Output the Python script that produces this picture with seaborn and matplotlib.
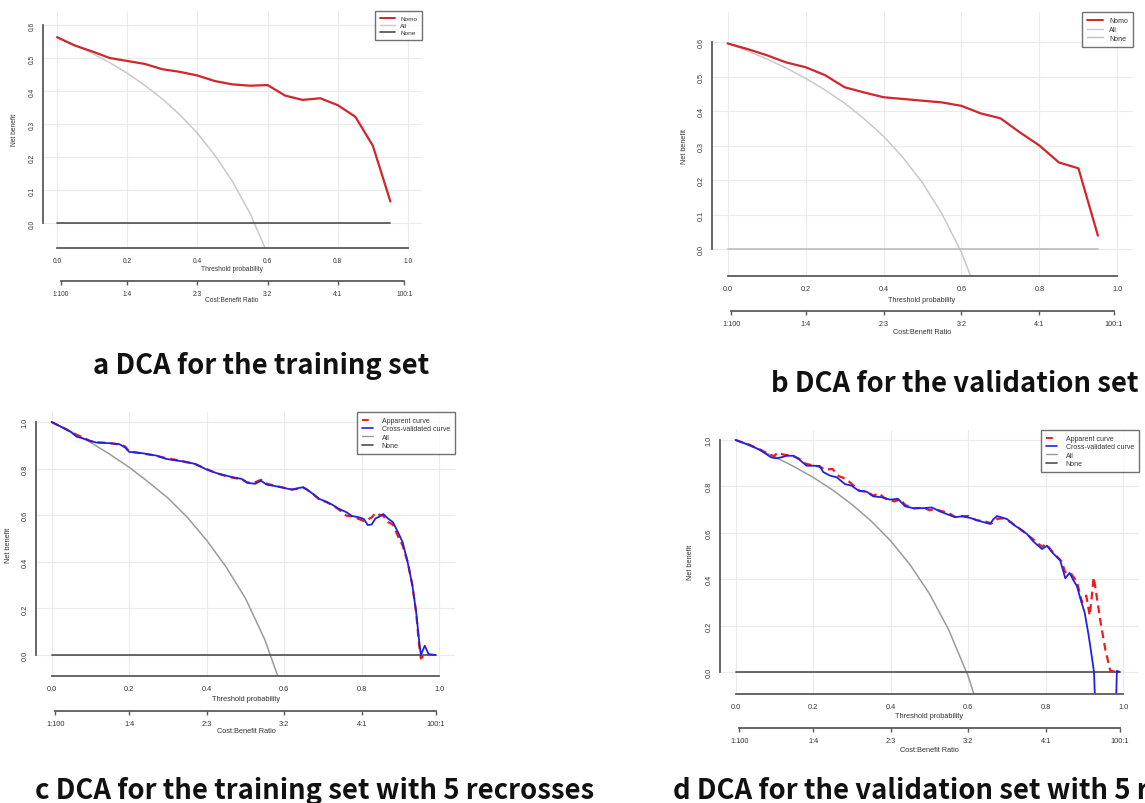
import matplotlib
matplotlib.use("Agg")
import matplotlib.pyplot as plt
from matplotlib.lines import Line2D
import seaborn as sns

W, H = 1145, 804

# ---------------- data ----------------
# (a) training set
thr_a = [0.00, 0.05, 0.10, 0.15, 0.20, 0.25, 0.30, 0.35, 0.40, 0.45,
         0.50, 0.55, 0.60, 0.65, 0.70, 0.75, 0.80, 0.85, 0.90, 0.95]
nomo_a = [0.563, 0.538, 0.520, 0.500, 0.491, 0.482, 0.466, 0.458, 0.447, 0.430,
          0.420, 0.416, 0.418, 0.386, 0.373, 0.378, 0.357, 0.322, 0.234, 0.065]
all_thr_a = [0.00, 0.05, 0.10, 0.15, 0.20, 0.25, 0.30, 0.35, 0.40, 0.45, 0.50, 0.55, 0.60]
all_a = [0.563, 0.540, 0.514, 0.486, 0.454, 0.417, 0.376, 0.328, 0.272, 0.205, 0.126, 0.029, -0.093]
none_thr_a = [0.0, 0.95]
none_a = [0.0, 0.0]

# (b) validation set
thr_b = thr_a
nomo_b = [0.596, 0.580, 0.562, 0.541, 0.527, 0.504, 0.469, 0.454, 0.440, 0.435,
          0.430, 0.425, 0.415, 0.393, 0.379, 0.338, 0.300, 0.251, 0.234, 0.039]
all_thr_b = [0.00, 0.05, 0.10, 0.15, 0.20, 0.25, 0.30, 0.35, 0.40, 0.45, 0.50, 0.55, 0.60, 0.65]
all_b = [0.596, 0.575, 0.551, 0.525, 0.495, 0.461, 0.423, 0.378, 0.327, 0.265, 0.192, 0.102, -0.010, -0.154]
none_thr_b = [0.0, 0.95]
none_b = [0.0, 0.0]

# (c) training set, 5 recrosses
thr_c_cv = [0.0, 0.03, 0.05, 0.065, 0.08, 0.10, 0.115, 0.15, 0.175, 0.19, 0.20, 0.235, 0.27,
            0.295, 0.32, 0.345, 0.37, 0.40, 0.425, 0.45, 0.47, 0.49, 0.505, 0.525, 0.54, 0.555,
            0.58, 0.605, 0.62, 0.635, 0.648, 0.658, 0.675, 0.69, 0.71, 0.725, 0.74, 0.76, 0.775,
            0.79, 0.805, 0.815, 0.825, 0.835, 0.845, 0.855, 0.868, 0.88, 0.893, 0.905, 0.918,
            0.93, 0.94, 0.947, 0.952, 0.962, 0.972, 0.99]
cv_c = [1.0, 0.975, 0.957, 0.937, 0.930, 0.919, 0.912, 0.909, 0.905, 0.890, 0.872, 0.866, 0.856,
        0.842, 0.835, 0.830, 0.820, 0.796, 0.781, 0.770, 0.762, 0.756, 0.739, 0.735, 0.748, 0.731,
        0.724, 0.715, 0.710, 0.716, 0.720, 0.711, 0.690, 0.670, 0.657, 0.644, 0.628, 0.613, 0.596,
        0.592, 0.584, 0.558, 0.560, 0.586, 0.594, 0.605, 0.585, 0.570, 0.527, 0.484, 0.398,
        0.300, 0.183, 0.070, 0.000, 0.040, 0.004, 0.000]
thr_c_app = [0.0, 0.03, 0.05, 0.065, 0.08, 0.10, 0.115, 0.15, 0.175, 0.19, 0.20, 0.235, 0.27,
             0.295, 0.32, 0.345, 0.37, 0.40, 0.425, 0.45, 0.47, 0.49, 0.505, 0.525, 0.54, 0.555,
             0.58, 0.605, 0.62, 0.635, 0.648, 0.658, 0.675, 0.69, 0.71, 0.725, 0.74, 0.76, 0.775,
             0.79, 0.805, 0.815, 0.825, 0.835, 0.845, 0.855, 0.868, 0.88, 0.893, 0.905, 0.918,
             0.93, 0.94, 0.947, 0.952, 0.962, 0.975]
app_c = [1.0, 0.976, 0.958, 0.945, 0.935, 0.918, 0.913, 0.910, 0.903, 0.895, 0.874, 0.865, 0.855,
         0.845, 0.838, 0.828, 0.820, 0.798, 0.780, 0.768, 0.760, 0.755, 0.740, 0.742, 0.752, 0.735,
         0.725, 0.716, 0.710, 0.714, 0.720, 0.710, 0.690, 0.668, 0.655, 0.642, 0.625, 0.598, 0.595,
         0.585, 0.575, 0.582, 0.590, 0.610, 0.602, 0.598, 0.570, 0.560, 0.510, 0.470, 0.400,
         0.300, 0.180, 0.050, -0.015, 0.000, 0.000]
all_thr_c = [0.00, 0.05, 0.10, 0.15, 0.20, 0.25, 0.30, 0.35, 0.40, 0.45, 0.50, 0.55, 0.60]
all_c = [1.0, 0.959, 0.913, 0.862, 0.806, 0.742, 0.674, 0.591, 0.492, 0.378, 0.243, 0.065, -0.169]
none_thr_c = [0.0, 0.99]
none_c = [0.0, 0.0]

# (d) validation set, 5 recrosses
thr_d_cv = [0.0, 0.036, 0.062, 0.092, 0.105, 0.12, 0.131, 0.149, 0.165, 0.183, 0.20, 0.217, 0.226,
            0.244, 0.261, 0.282, 0.299, 0.317, 0.338, 0.355, 0.377, 0.398, 0.419, 0.437, 0.458,
            0.484, 0.506, 0.527, 0.544, 0.566, 0.583, 0.605, 0.626, 0.656, 0.665, 0.674, 0.70,
            0.717, 0.735, 0.751, 0.768, 0.79, 0.803, 0.816, 0.837, 0.85, 0.861, 0.871, 0.88,
            0.89, 0.90, 0.91, 0.918, 0.924, 0.935, 0.975, 0.983, 0.99]
cv_d = [1.0, 0.978, 0.958, 0.925, 0.921, 0.926, 0.932, 0.932, 0.915, 0.889, 0.889, 0.888, 0.862,
        0.846, 0.839, 0.810, 0.803, 0.782, 0.777, 0.757, 0.753, 0.743, 0.746, 0.714, 0.706,
        0.706, 0.709, 0.692, 0.681, 0.667, 0.671, 0.664, 0.652, 0.638, 0.659, 0.672, 0.659,
        0.634, 0.615, 0.595, 0.562, 0.530, 0.544, 0.516, 0.480, 0.404, 0.427, 0.395, 0.370,
        0.310, 0.255, 0.160, 0.070, 0.000, -0.500, -0.500, 0.005, 0.000]
thr_d_app = [0.0, 0.036, 0.062, 0.085, 0.10, 0.107, 0.115, 0.131, 0.15, 0.165, 0.18, 0.20, 0.217,
             0.23, 0.25, 0.265, 0.285, 0.30, 0.32, 0.338, 0.355, 0.37, 0.385, 0.41, 0.425, 0.437,
             0.46, 0.485, 0.50, 0.515, 0.527, 0.55, 0.566, 0.583, 0.60, 0.62, 0.645, 0.66, 0.675,
             0.69, 0.71, 0.73, 0.75, 0.77, 0.79, 0.80, 0.82, 0.84, 0.85, 0.862, 0.88, 0.893,
             0.904, 0.913, 0.919, 0.923, 0.927, 0.941, 0.953, 0.966, 0.983]
app_d = [1.0, 0.979, 0.960, 0.940, 0.930, 0.945, 0.940, 0.935, 0.930, 0.918, 0.898, 0.890, 0.885,
         0.872, 0.875, 0.845, 0.832, 0.810, 0.780, 0.778, 0.760, 0.770, 0.748, 0.735, 0.745, 0.720,
         0.705, 0.708, 0.697, 0.703, 0.695, 0.685, 0.668, 0.672, 0.672, 0.655, 0.648, 0.640, 0.660,
         0.662, 0.645, 0.620, 0.595, 0.568, 0.540, 0.552, 0.512, 0.478, 0.430, 0.430, 0.390, 0.300,
         0.329, 0.243, 0.336, 0.408, 0.370, 0.214, 0.099, 0.005, 0.000]
all_thr_d = [0.00, 0.05, 0.10, 0.15, 0.20, 0.25, 0.30, 0.35, 0.40, 0.45, 0.50, 0.55, 0.60, 0.65]
all_d = [1.0, 0.966, 0.928, 0.886, 0.839, 0.785, 0.722, 0.650, 0.565, 0.462, 0.337, 0.180, -0.020, -0.280]
none_thr_d = [0.0, 0.99]
none_d = [0.0, 0.0]

# axis ticks
x_ticks = [0.0, 0.2, 0.4, 0.6, 0.8, 1.0]
y_ticks_ab = [0.0, 0.1, 0.2, 0.3, 0.4, 0.5, 0.6]
y_ticks_cd = [0.0, 0.2, 0.4, 0.6, 0.8, 1.0]
cbr_pos = [0.0099, 0.2, 0.4, 0.6, 0.8, 0.99]
cbr_labels = ["1:100", "1:4", "2:3", "3:2", "4:1", "100:1"]

captions = ["a DCA for the training set",
            "b DCA for the validation set",
            "c DCA for the training set with 5 recrosses",
            "d DCA for the validation set with 5 recrosses"]

# ---------------- styling ----------------
sns.set_style("white")
plt.rcParams["font.family"] = ["Liberation Sans", "DejaVu Sans"]

RED = "#d0262c"
RED_DASH = "#f01c1c"
BLUE = "#1f22e6"
LIGHT_GREY = "#c9c9c9"
MID_GREY = "#9b9b9b"
DARK_GREY = "#4d4d4d"
AXIS = "#5a5a5a"
GRID = "#ebebeb"
TXT = "#333333"

fig = plt.figure(figsize=(W / 100, H / 100), dpi=100)
fig.patch.set_facecolor("white")


def fx(px):
    return px / W


def fy(py):
    return 1 - py / H


def dca_axes(box, ylim, yticks, fs, cbr_y):
    x0, y0, x1, y1 = box
    ax = fig.add_axes([fx(x0), fy(y1), (x1 - x0) / W, (y1 - y0) / H])
    ax.set_xlim(-0.04, 1.04)
    ax.set_ylim(*ylim)
    ax.set_xticks(x_ticks)
    ax.set_xticklabels([f"{v:.1f}" for v in x_ticks])
    ax.set_yticks(yticks)
    ax.set_yticklabels([f"{v:.1f}" for v in yticks])
    ax.grid(True, color=GRID, lw=0.8)
    ax.set_axisbelow(True)
    for s in ("top", "right"):
        ax.spines[s].set_visible(False)
    ax.spines["bottom"].set_bounds(0, 1)
    ax.spines["left"].set_bounds(yticks[0], yticks[-1])
    for s in ("bottom", "left"):
        ax.spines[s].set_color(AXIS)
        ax.spines[s].set_linewidth(1.3)
    ax.tick_params(axis="both", direction="out", length=3.0, width=1.0, color=AXIS,
                   labelsize=fs, labelcolor=TXT, pad=3.5)
    ax.tick_params(axis="y", labelrotation=90, pad=2.5)
    for lab in ax.get_yticklabels():
        lab.set_va("center")
    # cost:benefit ratio axis
    loc = -(cbr_y - y1) / (y1 - y0)
    sec = ax.secondary_xaxis(loc)
    sec.set_xticks(cbr_pos)
    sec.set_xticklabels(cbr_labels)
    sec.spines["bottom"].set_bounds(cbr_pos[0], cbr_pos[-1])
    sec.spines["bottom"].set_color(AXIS)
    sec.spines["bottom"].set_linewidth(1.3)
    sec.tick_params(axis="x", direction="out", length=3.0, width=1.0, color=AXIS,
                    labelsize=fs, labelcolor=TXT, pad=3.5)
    return ax


def line(ax, x, y, color, lw, dashes=None):
    sns.lineplot(x=x, y=y, ax=ax, color=color, linewidth=lw, estimator=None,
                 sort=False, legend=False)
    ln = ax.lines[-1]
    if dashes is not None:
        ln.set_dashes(dashes)
    return ln


def legend(ax, handles, labels, fs, hl, htp, ls, bp):
    leg = ax.legend(handles, labels, loc="upper right", borderaxespad=0, frameon=True,
                    fancybox=False, edgecolor=DARK_GREY, fontsize=fs, handlelength=hl,
                    handletextpad=htp, labelspacing=ls, borderpad=bp)
    leg.get_frame().set_linewidth(1.0)
    for t in leg.get_texts():
        t.set_color(TXT)
    return leg


def labels(xc, y_thr, y_cbr, x_nb, y_nb, fs):
    fig.text(fx(xc), fy(y_thr), "Threshold probability", ha="center", va="center",
             fontsize=fs, color=TXT)
    fig.text(fx(xc), fy(y_cbr), "Cost:Benefit Ratio", ha="center", va="center",
             fontsize=fs, color=TXT)
    fig.text(fx(x_nb), fy(y_nb), "Net benefit", ha="center", va="center",
             rotation=90, fontsize=fs, color=TXT)


# ---------------- panel a ----------------
ax = dca_axes((43, 12, 422, 249), (-0.0758, 0.6424), y_ticks_ab, 4.8, 282)
line(ax, all_thr_a, all_a, LIGHT_GREY, 1.1)
line(ax, none_thr_a, none_a, DARK_GREY, 1.2)
line(ax, thr_a, nomo_a, RED, 1.6)
legend(ax, [Line2D([], [], color=RED, lw=1.4), Line2D([], [], color=LIGHT_GREY, lw=1.0),
            Line2D([], [], color=DARK_GREY, lw=1.2)],
       ["Nomo", "All", "None"], 4.6, 2.4, 0.8, 0.2, 0.75)
labels(232, 270, 301, 15, 130, 4.8)

# ---------------- panel b ----------------
ax = dca_axes((712, 13, 1133, 277), (-0.078, 0.687), y_ticks_ab, 5.2, 312)
line(ax, all_thr_b, all_b, LIGHT_GREY, 1.1)
line(ax, none_thr_b, none_b, "#bdbdbd", 1.2)
line(ax, thr_b, nomo_b, RED, 1.6)
legend(ax, [Line2D([], [], color=RED, lw=1.4), Line2D([], [], color=LIGHT_GREY, lw=1.0),
            Line2D([], [], color="#bdbdbd", lw=1.0)],
       ["Nomo", "All", "None"], 5.0, 2.4, 0.8, 0.26, 0.74)
labels(922, 301, 333, 685, 146, 5.2)

# ---------------- panel c ----------------
ax = dca_axes((36, 413, 455, 677), (-0.090, 1.043), y_ticks_cd, 5.3, 712)
line(ax, all_thr_c, all_c, MID_GREY, 1.1)
line(ax, none_thr_c, none_c, DARK_GREY, 1.2)
line(ax, thr_c_app, app_c, RED_DASH, 1.6, dashes=(3.5, 2.2))
line(ax, thr_c_cv, cv_c, BLUE, 1.3)
legend(ax, [Line2D([], [], color=RED_DASH, lw=1.4, ls=(0, (3.5, 2.2))),
            Line2D([], [], color=BLUE, lw=1.2), Line2D([], [], color=MID_GREY, lw=1.0),
            Line2D([], [], color=DARK_GREY, lw=1.2)],
       ["Apparent curve", "Cross-validated curve", "All", "None"], 5.0, 1.6, 1.3, 0.2, 0.72)
labels(246, 700, 732, 8, 545, 5.3)

# ---------------- panel d ----------------
ax = dca_axes((720, 431, 1139, 695), (-0.095, 1.043), y_ticks_cd, 5.3, 729)
line(ax, all_thr_d, all_d, MID_GREY, 1.1)
line(ax, none_thr_d, none_d, DARK_GREY, 1.2)
line(ax, thr_d_app, app_d, RED_DASH, 1.6, dashes=(3.5, 2.2))
line(ax, thr_d_cv, cv_d, BLUE, 1.3)
legend(ax, [Line2D([], [], color=RED_DASH, lw=1.4, ls=(0, (3.5, 2.2))),
            Line2D([], [], color=BLUE, lw=1.2), Line2D([], [], color=MID_GREY, lw=1.0),
            Line2D([], [], color=DARK_GREY, lw=1.2)],
       ["Apparent curve", "Cross-validated curve", "All", "None"], 5.0, 1.6, 1.3, 0.2, 0.72)
labels(929, 717, 751, 690, 562, 5.3)

# ---------------- captions ----------------
cap_font = ["Noto Sans CJK SC", "DejaVu Sans"]
for (cx, cy), text in zip([(93, 374), (771, 392), (35, 799), (673, 799)], captions):
    fig.text(fx(cx), fy(cy), text, ha="left", va="baseline", fontsize=19.8,
             fontweight="bold", family=cap_font, color="#111111")

fig.savefig("out.png", dpi=100, facecolor="white")
